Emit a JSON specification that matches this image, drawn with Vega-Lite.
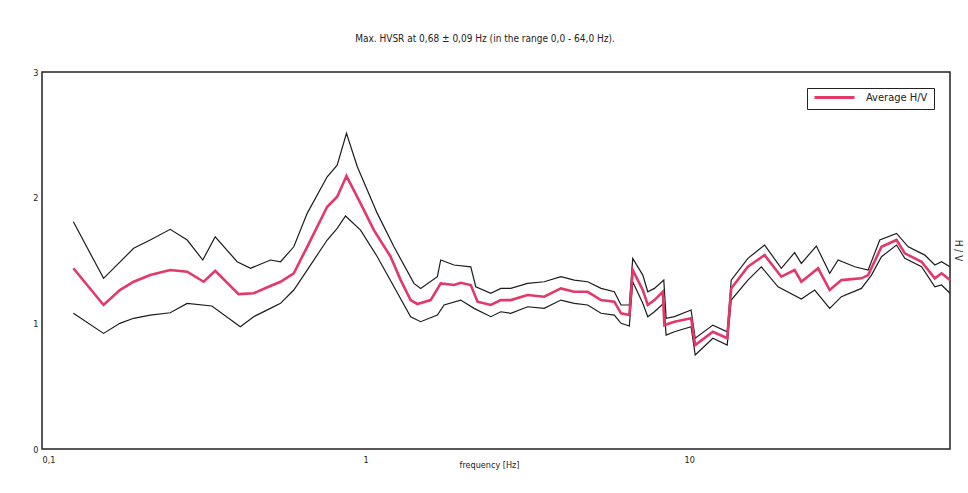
{
  "$schema": "https://vega.github.io/schema/vega-lite/v6.json",
  "width": 908,
  "height": 377,
  "autosize": {"type": "none"},
  "padding": {"left": 42, "top": 72, "right": 18, "bottom": 44},
  "background": "white",
  "title": {
    "text": "Max. HVSR at 0,68 ± 0,09 Hz  (in the range 0,0 - 64,0 Hz).",
    "fontSize": 10,
    "font": "Liberation Sans Narrow, DejaVu Sans Condensed, Liberation Sans",
    "fontWeight": "normal",
    "color": "#222",
    "offset": 24,
    "dx": -11
  },
  "datasets": {
    "hv": [
      {"s": "Average H/V", "f": 0.125, "v": 1.438},
      {"s": "Average H/V", "f": 0.155, "v": 1.146},
      {"s": "Average H/V", "f": 0.174, "v": 1.265},
      {"s": "Average H/V", "f": 0.192, "v": 1.331},
      {"s": "Average H/V", "f": 0.216, "v": 1.384},
      {"s": "Average H/V", "f": 0.249, "v": 1.424},
      {"s": "Average H/V", "f": 0.281, "v": 1.411},
      {"s": "Average H/V", "f": 0.316, "v": 1.331},
      {"s": "Average H/V", "f": 0.343, "v": 1.418},
      {"s": "Average H/V", "f": 0.405, "v": 1.233},
      {"s": "Average H/V", "f": 0.451, "v": 1.239},
      {"s": "Average H/V", "f": 0.508, "v": 1.297},
      {"s": "Average H/V", "f": 0.546, "v": 1.331},
      {"s": "Average H/V", "f": 0.600, "v": 1.398},
      {"s": "Average H/V", "f": 0.660, "v": 1.609},
      {"s": "Average H/V", "f": 0.761, "v": 1.928},
      {"s": "Average H/V", "f": 0.817, "v": 2.007},
      {"s": "Average H/V", "f": 0.873, "v": 2.172},
      {"s": "Average H/V", "f": 0.965, "v": 1.955},
      {"s": "Average H/V", "f": 1.061, "v": 1.742},
      {"s": "Average H/V", "f": 1.195, "v": 1.530},
      {"s": "Average H/V", "f": 1.284, "v": 1.344},
      {"s": "Average H/V", "f": 1.378, "v": 1.185},
      {"s": "Average H/V", "f": 1.446, "v": 1.154},
      {"s": "Average H/V", "f": 1.589, "v": 1.185},
      {"s": "Average H/V", "f": 1.707, "v": 1.318},
      {"s": "Average H/V", "f": 1.877, "v": 1.305},
      {"s": "Average H/V", "f": 1.968, "v": 1.323},
      {"s": "Average H/V", "f": 2.114, "v": 1.305},
      {"s": "Average H/V", "f": 2.218, "v": 1.172},
      {"s": "Average H/V", "f": 2.438, "v": 1.146},
      {"s": "Average H/V", "f": 2.618, "v": 1.185},
      {"s": "Average H/V", "f": 2.811, "v": 1.185},
      {"s": "Average H/V", "f": 3.168, "v": 1.225},
      {"s": "Average H/V", "f": 3.565, "v": 1.212},
      {"s": "Average H/V", "f": 4.015, "v": 1.278},
      {"s": "Average H/V", "f": 4.414, "v": 1.251},
      {"s": "Average H/V", "f": 4.858, "v": 1.251},
      {"s": "Average H/V", "f": 5.341, "v": 1.185},
      {"s": "Average H/V", "f": 5.871, "v": 1.172},
      {"s": "Average H/V", "f": 6.159, "v": 1.080},
      {"s": "Average H/V", "f": 6.534, "v": 1.066},
      {"s": "Average H/V", "f": 6.694, "v": 1.424},
      {"s": "Average H/V", "f": 7.190, "v": 1.265},
      {"s": "Average H/V", "f": 7.450, "v": 1.146},
      {"s": "Average H/V", "f": 7.810, "v": 1.185},
      {"s": "Average H/V", "f": 8.291, "v": 1.251},
      {"s": "Average H/V", "f": 8.384, "v": 0.986},
      {"s": "Average H/V", "f": 9.005, "v": 1.013},
      {"s": "Average H/V", "f": 10.14, "v": 1.040},
      {"s": "Average H/V", "f": 10.44, "v": 0.827},
      {"s": "Average H/V", "f": 11.84, "v": 0.933},
      {"s": "Average H/V", "f": 13.11, "v": 0.881},
      {"s": "Average H/V", "f": 13.49, "v": 1.278},
      {"s": "Average H/V", "f": 15.19, "v": 1.450},
      {"s": "Average H/V", "f": 17.11, "v": 1.543},
      {"s": "Average H/V", "f": 19.27, "v": 1.371},
      {"s": "Average H/V", "f": 21.18, "v": 1.424},
      {"s": "Average H/V", "f": 22.22, "v": 1.331},
      {"s": "Average H/V", "f": 25.04, "v": 1.438},
      {"s": "Average H/V", "f": 27.19, "v": 1.265},
      {"s": "Average H/V", "f": 29.55, "v": 1.344},
      {"s": "Average H/V", "f": 34.08, "v": 1.358},
      {"s": "Average H/V", "f": 35.75, "v": 1.384},
      {"s": "Average H/V", "f": 39.3, "v": 1.609},
      {"s": "Average H/V", "f": 43.74, "v": 1.663},
      {"s": "Average H/V", "f": 46.41, "v": 1.557},
      {"s": "Average H/V", "f": 52.28, "v": 1.490},
      {"s": "Average H/V", "f": 57.45, "v": 1.358},
      {"s": "Average H/V", "f": 60.27, "v": 1.398},
      {"s": "Average H/V", "f": 64.0, "v": 1.344},

      {"s": "upper", "f": 0.125, "v": 1.808},
      {"s": "upper", "f": 0.155, "v": 1.358},
      {"s": "upper", "f": 0.192, "v": 1.597},
      {"s": "upper", "f": 0.216, "v": 1.663},
      {"s": "upper", "f": 0.249, "v": 1.748},
      {"s": "upper", "f": 0.281, "v": 1.663},
      {"s": "upper", "f": 0.314, "v": 1.504},
      {"s": "upper", "f": 0.343, "v": 1.689},
      {"s": "upper", "f": 0.401, "v": 1.490},
      {"s": "upper", "f": 0.441, "v": 1.438},
      {"s": "upper", "f": 0.508, "v": 1.504},
      {"s": "upper", "f": 0.546, "v": 1.490},
      {"s": "upper", "f": 0.600, "v": 1.609},
      {"s": "upper", "f": 0.660, "v": 1.875},
      {"s": "upper", "f": 0.761, "v": 2.166},
      {"s": "upper", "f": 0.817, "v": 2.259},
      {"s": "upper", "f": 0.873, "v": 2.512},
      {"s": "upper", "f": 0.943, "v": 2.246},
      {"s": "upper", "f": 1.087, "v": 1.875},
      {"s": "upper", "f": 1.224, "v": 1.609},
      {"s": "upper", "f": 1.411, "v": 1.318},
      {"s": "upper", "f": 1.480, "v": 1.278},
      {"s": "upper", "f": 1.667, "v": 1.371},
      {"s": "upper", "f": 1.707, "v": 1.504},
      {"s": "upper", "f": 1.877, "v": 1.464},
      {"s": "upper", "f": 2.114, "v": 1.450},
      {"s": "upper", "f": 2.191, "v": 1.291},
      {"s": "upper", "f": 2.438, "v": 1.239},
      {"s": "upper", "f": 2.618, "v": 1.278},
      {"s": "upper", "f": 2.811, "v": 1.278},
      {"s": "upper", "f": 3.168, "v": 1.318},
      {"s": "upper", "f": 3.565, "v": 1.331},
      {"s": "upper", "f": 4.015, "v": 1.371},
      {"s": "upper", "f": 4.414, "v": 1.344},
      {"s": "upper", "f": 4.858, "v": 1.331},
      {"s": "upper", "f": 5.341, "v": 1.278},
      {"s": "upper", "f": 5.871, "v": 1.251},
      {"s": "upper", "f": 6.159, "v": 1.146},
      {"s": "upper", "f": 6.534, "v": 1.146},
      {"s": "upper", "f": 6.694, "v": 1.517},
      {"s": "upper", "f": 7.190, "v": 1.384},
      {"s": "upper", "f": 7.450, "v": 1.251},
      {"s": "upper", "f": 7.810, "v": 1.278},
      {"s": "upper", "f": 8.350, "v": 1.344},
      {"s": "upper", "f": 8.488, "v": 1.040},
      {"s": "upper", "f": 9.005, "v": 1.053},
      {"s": "upper", "f": 10.14, "v": 1.106},
      {"s": "upper", "f": 10.44, "v": 0.881},
      {"s": "upper", "f": 11.84, "v": 0.986},
      {"s": "upper", "f": 13.11, "v": 0.933},
      {"s": "upper", "f": 13.49, "v": 1.344},
      {"s": "upper", "f": 15.19, "v": 1.517},
      {"s": "upper", "f": 17.11, "v": 1.623},
      {"s": "upper", "f": 19.27, "v": 1.438},
      {"s": "upper", "f": 21.18, "v": 1.563},
      {"s": "upper", "f": 22.22, "v": 1.477},
      {"s": "upper", "f": 24.73, "v": 1.615},
      {"s": "upper", "f": 27.19, "v": 1.398},
      {"s": "upper", "f": 28.87, "v": 1.504},
      {"s": "upper", "f": 32.49, "v": 1.450},
      {"s": "upper", "f": 35.75, "v": 1.424},
      {"s": "upper", "f": 38.83, "v": 1.663},
      {"s": "upper", "f": 43.74, "v": 1.716},
      {"s": "upper", "f": 47.55, "v": 1.609},
      {"s": "upper", "f": 53.52, "v": 1.543},
      {"s": "upper", "f": 57.45, "v": 1.464},
      {"s": "upper", "f": 60.27, "v": 1.490},
      {"s": "upper", "f": 64.0, "v": 1.450},

      {"s": "lower", "f": 0.125, "v": 1.080},
      {"s": "lower", "f": 0.155, "v": 0.920},
      {"s": "lower", "f": 0.174, "v": 1.000},
      {"s": "lower", "f": 0.192, "v": 1.040},
      {"s": "lower", "f": 0.216, "v": 1.066},
      {"s": "lower", "f": 0.249, "v": 1.084},
      {"s": "lower", "f": 0.281, "v": 1.159},
      {"s": "lower", "f": 0.335, "v": 1.138},
      {"s": "lower", "f": 0.410, "v": 0.973},
      {"s": "lower", "f": 0.451, "v": 1.053},
      {"s": "lower", "f": 0.508, "v": 1.119},
      {"s": "lower", "f": 0.546, "v": 1.159},
      {"s": "lower", "f": 0.600, "v": 1.265},
      {"s": "lower", "f": 0.660, "v": 1.424},
      {"s": "lower", "f": 0.761, "v": 1.663},
      {"s": "lower", "f": 0.817, "v": 1.756},
      {"s": "lower", "f": 0.867, "v": 1.854},
      {"s": "lower", "f": 0.965, "v": 1.742},
      {"s": "lower", "f": 1.087, "v": 1.530},
      {"s": "lower", "f": 1.224, "v": 1.291},
      {"s": "lower", "f": 1.378, "v": 1.053},
      {"s": "lower", "f": 1.480, "v": 1.013},
      {"s": "lower", "f": 1.667, "v": 1.066},
      {"s": "lower", "f": 1.748, "v": 1.146},
      {"s": "lower", "f": 1.968, "v": 1.185},
      {"s": "lower", "f": 2.164, "v": 1.119},
      {"s": "lower", "f": 2.438, "v": 1.053},
      {"s": "lower", "f": 2.618, "v": 1.092},
      {"s": "lower", "f": 2.811, "v": 1.080},
      {"s": "lower", "f": 3.168, "v": 1.132},
      {"s": "lower", "f": 3.565, "v": 1.119},
      {"s": "lower", "f": 4.015, "v": 1.185},
      {"s": "lower", "f": 4.414, "v": 1.159},
      {"s": "lower", "f": 4.858, "v": 1.146},
      {"s": "lower", "f": 5.341, "v": 1.080},
      {"s": "lower", "f": 5.871, "v": 1.066},
      {"s": "lower", "f": 6.159, "v": 1.000},
      {"s": "lower", "f": 6.534, "v": 0.979},
      {"s": "lower", "f": 6.694, "v": 1.331},
      {"s": "lower", "f": 7.190, "v": 1.159},
      {"s": "lower", "f": 7.450, "v": 1.053},
      {"s": "lower", "f": 7.810, "v": 1.092},
      {"s": "lower", "f": 8.350, "v": 1.159},
      {"s": "lower", "f": 8.488, "v": 0.907},
      {"s": "lower", "f": 9.005, "v": 0.933},
      {"s": "lower", "f": 10.14, "v": 0.973},
      {"s": "lower", "f": 10.44, "v": 0.748},
      {"s": "lower", "f": 11.84, "v": 0.881},
      {"s": "lower", "f": 13.11, "v": 0.827},
      {"s": "lower", "f": 13.49, "v": 1.185},
      {"s": "lower", "f": 15.19, "v": 1.344},
      {"s": "lower", "f": 16.71, "v": 1.450},
      {"s": "lower", "f": 18.82, "v": 1.291},
      {"s": "lower", "f": 22.22, "v": 1.193},
      {"s": "lower", "f": 24.43, "v": 1.265},
      {"s": "lower", "f": 27.19, "v": 1.119},
      {"s": "lower", "f": 29.55, "v": 1.212},
      {"s": "lower", "f": 34.08, "v": 1.278},
      {"s": "lower", "f": 36.6, "v": 1.384},
      {"s": "lower", "f": 39.3, "v": 1.530},
      {"s": "lower", "f": 43.74, "v": 1.623},
      {"s": "lower", "f": 46.41, "v": 1.517},
      {"s": "lower", "f": 52.28, "v": 1.450},
      {"s": "lower", "f": 57.45, "v": 1.291},
      {"s": "lower", "f": 60.27, "v": 1.305},
      {"s": "lower", "f": 64.0, "v": 1.239}
    ]
  },
  "data": {"name": "hv"},
  "layer": [
    {
      "transform": [{"filter": "datum.s !== 'Average H/V'"}],
      "mark": {"type": "line", "stroke": "#1c1c1c", "strokeWidth": 1.2, "interpolate": "linear"},
      "encoding": {
        "x": {
          "field": "f", "type": "quantitative",
          "scale": {"type": "log", "domain": [0.1, 64], "nice": false},
          "axis": {
            "values": [0.1, 1, 10],
            "labelExpr": "replace(format(datum.value, '~g'), '.', ',')",
            "ticks": false, "domain": false, "grid": false,
            "labelFontSize": 9, "labelPadding": 6,
            "labelFont": "Liberation Sans Narrow, DejaVu Sans Condensed, Liberation Sans",
            "labelColor": "#222",
            "title": "frequency [Hz]",
            "titleFont": "Liberation Sans Narrow, DejaVu Sans Condensed, Liberation Sans",
            "titleFontSize": 9, "titleFontWeight": "normal", "titleColor": "#222",
            "titleY": 11, "titleX": 447
          }
        },
        "y": {
          "field": "v", "type": "quantitative",
          "scale": {"domain": [0, 3], "nice": false, "zero": true},
          "axis": {
            "values": [0, 1, 2, 3],
            "ticks": false, "domain": false, "grid": false,
            "labelFontSize": 9, "labelPadding": 4, "labelColor": "#222",
            "labelFont": "Liberation Sans Narrow, DejaVu Sans Condensed, Liberation Sans",
            "title": null
          }
        },
        "detail": {"field": "s"}
      }
    },
    {
      "transform": [{"filter": "datum.s === 'Average H/V'"}],
      "mark": {"type": "line", "strokeWidth": 2.6, "interpolate": "linear"},
      "encoding": {
        "x": {"field": "f", "type": "quantitative"},
        "y": {
          "field": "v", "type": "quantitative",
          "axis": {
            "orient": "right",
            "labels": false, "ticks": false, "domain": false, "grid": false,
            "title": "H / V", "titleAngle": 90, "titlePadding": 2, "titleY": 178,
            "titleFont": "Liberation Sans Narrow, DejaVu Sans Condensed, Liberation Sans",
            "titleFontSize": 10, "titleFontWeight": "normal", "titleColor": "#222"
          }
        },
        "color": {
          "field": "s", "type": "nominal",
          "scale": {"domain": ["Average H/V"], "range": ["#e3386a"]},
          "legend": {
            "title": null,
            "orient": "top-right",
            "offset": 16,
            "symbolType": "stroke",
            "symbolSize": 1600,
            "symbolStrokeWidth": 3,
            "clipHeight": 7,
            "labelOffset": 10,
            "labelFontSize": 11,
            "labelFont": "Liberation Sans Narrow, DejaVu Sans Condensed, Liberation Sans",
            "labelColor": "#222",
            "strokeColor": "#222",
            "fillColor": "white",
            "padding": 6,
            "cornerRadius": 0
          }
        }
      }
    }
  ],
  "resolve": {"axis": {"y": "independent"}},
  "config": {
    "view": {"stroke": "#222", "strokeWidth": 1.5}
  }
}
